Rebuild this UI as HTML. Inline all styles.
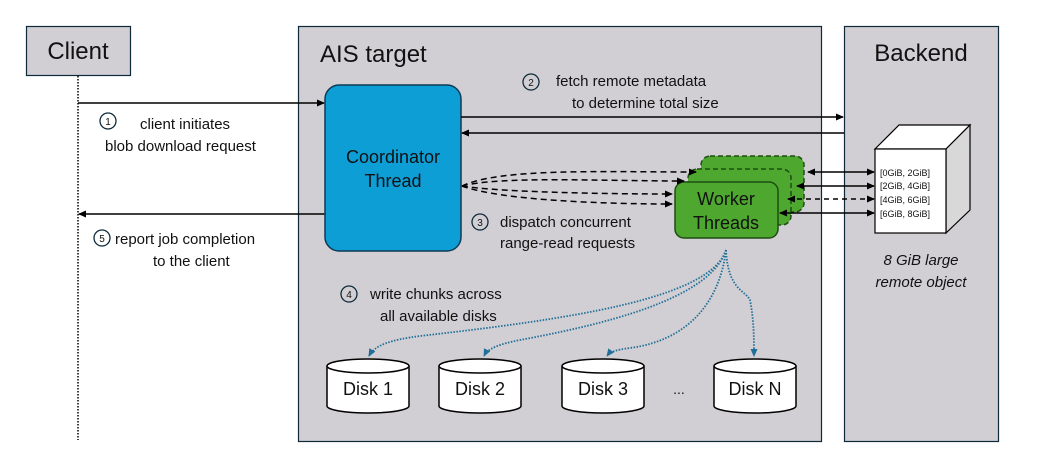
<!DOCTYPE html>
<html><head><meta charset="utf-8"><style>
html,body{margin:0;padding:0;background:#fff;}
svg{display:block;font-family:"Liberation Sans",sans-serif;}
</style></head><body>
<svg width="1041" height="459" viewBox="0 0 1041 459" xmlns="http://www.w3.org/2000/svg">
<defs>
<marker id="a" markerWidth="8" markerHeight="8" refX="7" refY="4" orient="auto" markerUnits="userSpaceOnUse"><path d="M0,0.5 L8,4 L0,7.5z" fill="#000"/></marker>
<marker id="as" markerWidth="8" markerHeight="8" refX="1" refY="4" orient="auto" markerUnits="userSpaceOnUse"><path d="M8,0.5 L0,4 L8,7.5z" fill="#000"/></marker>
<marker id="t" markerWidth="8" markerHeight="8" refX="7" refY="4" orient="auto" markerUnits="userSpaceOnUse"><path d="M0,0.5 L8,4 L0,7.5z" fill="#1f6f9a"/></marker>
</defs>
<!-- panels -->
<rect x="26.5" y="26.5" width="104" height="49" fill="#d1cfd3" stroke="#0e2a3a" stroke-width="1.2"/>
<text x="78" y="59" font-size="24" text-anchor="middle" fill="#111">Client</text>
<rect x="298.5" y="26.5" width="523" height="415" fill="#d1cfd3" stroke="#0e2a3a" stroke-width="1.2"/>
<text x="320" y="62" font-size="24" fill="#111">AIS target</text>
<rect x="844.5" y="26.5" width="154" height="415" fill="#d1cfd3" stroke="#0e2a3a" stroke-width="1.2"/>
<text x="921" y="61" font-size="24" text-anchor="middle" fill="#111">Backend</text>
<!-- client lifeline -->
<line x1="78" y1="76" x2="78" y2="440" stroke="#000" stroke-width="1.5" stroke-dasharray="1.5,1.5"/>
<!-- arrows 1,5 -->
<line x1="78" y1="103" x2="324" y2="103" stroke="#000" stroke-width="1.5" marker-end="url(#a)"/>
<line x1="325" y1="214" x2="79" y2="214" stroke="#000" stroke-width="1.5" marker-end="url(#a)"/>
<!-- coordinator -->
<rect x="325" y="85" width="136" height="166" rx="14" fill="#0e9ed6" stroke="#0e3a55" stroke-width="1.5"/>
<text x="393" y="163" font-size="18" text-anchor="middle" fill="#111">Coordinator</text>
<text x="393" y="187" font-size="18" text-anchor="middle" fill="#111">Thread</text>
<!-- arrows 2 -->
<line x1="461" y1="117" x2="843" y2="117" stroke="#000" stroke-width="1.5" marker-end="url(#a)"/>
<line x1="844" y1="133" x2="462" y2="133" stroke="#000" stroke-width="1.5" marker-end="url(#a)"/>
<!-- workers -->
<rect x="701" y="156" width="103" height="56" rx="9" fill="#4ea72e" stroke="#1f4d14" stroke-width="1.5" stroke-dasharray="5,3"/>
<rect x="688" y="169" width="103" height="56" rx="9" fill="#4ea72e" stroke="#1f4d14" stroke-width="1.5" stroke-dasharray="5,3"/>
<rect x="675" y="182" width="103" height="56" rx="9" fill="#4ea72e" stroke="#1f4d14" stroke-width="1.5"/>
<text x="726" y="205" font-size="18" text-anchor="middle" fill="#111">Worker</text>
<text x="726" y="229" font-size="18" text-anchor="middle" fill="#111">Threads</text>
<!-- dashed dispatch -->
<g fill="none" stroke="#000" stroke-width="1.5" stroke-dasharray="6,4">
<path d="M462,186 C500,168 600,172 696,172" marker-end="url(#a)"/>
<path d="M462,186 C500,176 600,181 684,181" marker-end="url(#a)"/>
<path d="M462,186 C500,192 600,194 672,194" marker-end="url(#a)"/>
<path d="M462,186 C500,200 600,204 672,204" marker-end="url(#a)"/>
</g>
<!-- cube -->
<polygon points="875,149 899,125 970,125 946,149" fill="#fff" stroke="#000" stroke-width="1.2"/>
<polygon points="946,149 970,125 970,210 946,233" fill="#d8d8d8" stroke="#000" stroke-width="1.2"/>
<rect x="875" y="149" width="71" height="84" fill="#fff" stroke="#000" stroke-width="1.2"/>
<g font-size="9" fill="#111">
<text x="880" y="176">[0GiB, 2GiB]</text>
<text x="880" y="189">[2GiB, 4GiB]</text>
<text x="880" y="203">[4GiB, 6GiB]</text>
<text x="880" y="217">[6GiB, 8GiB]</text>
</g>
<g stroke="#000" stroke-width="1.5">
<line x1="808" y1="172" x2="874" y2="172" marker-start="url(#as)" marker-end="url(#a)"/>
<line x1="797" y1="186" x2="874" y2="186" marker-start="url(#as)" marker-end="url(#a)"/>
<line x1="788" y1="199" x2="874" y2="199" stroke-dasharray="5,4" marker-start="url(#as)" marker-end="url(#a)"/>
<line x1="780" y1="213" x2="874" y2="213" marker-start="url(#as)" marker-end="url(#a)"/>
</g>
<text x="921" y="265" font-size="15" font-style="italic" text-anchor="middle" fill="#111">8 GiB large</text>
<text x="921" y="287" font-size="15" font-style="italic" text-anchor="middle" fill="#111">remote object</text>
<!-- labels -->
<g font-size="15" fill="#111">
<circle cx="108" cy="121" r="8" fill="none" stroke="#0e2a3a" stroke-width="1.3"/><text x="108" y="125" font-size="10" text-anchor="middle">1</text>
<text x="140" y="129">client initiates</text>
<text x="105" y="151">blob download request</text>
<circle cx="102" cy="238" r="8" fill="none" stroke="#0e2a3a" stroke-width="1.3"/><text x="102" y="242" font-size="10" text-anchor="middle">5</text>
<text x="115" y="244">report job completion</text>
<text x="153" y="266">to the client</text>
<circle cx="531" cy="82" r="8" fill="none" stroke="#0e2a3a" stroke-width="1.3"/><text x="531" y="86" font-size="10" text-anchor="middle">2</text>
<text x="556" y="86">fetch remote metadata</text>
<text x="572" y="108">to determine total size</text>
<circle cx="480" cy="222" r="8" fill="none" stroke="#0e2a3a" stroke-width="1.3"/><text x="480" y="226" font-size="10" text-anchor="middle">3</text>
<text x="500" y="227">dispatch concurrent</text>
<text x="500" y="248">range-read requests</text>
<circle cx="349" cy="294" r="8" fill="none" stroke="#0e2a3a" stroke-width="1.3"/><text x="349" y="298" font-size="10" text-anchor="middle">4</text>
<text x="370" y="299">write chunks across</text>
<text x="380" y="321">all available disks</text>
</g>
<!-- dotted to disks -->
<g fill="none" stroke="#1f6f9a" stroke-width="1.8" stroke-dasharray="1.5,1.5">
<path d="M726,250 C710,300 560,320 420,336 C390,340 375,345 369,356" marker-end="url(#t)"/>
<path d="M726,250 C710,300 600,325 520,340 C500,344 488,348 484,356" marker-end="url(#t)"/>
<path d="M726,250 C720,300 690,340 630,348 C615,350 610,352 607,356" marker-end="url(#t)"/>
<path d="M726,250 C728,290 745,290 750,300 C754,320 754,340 754,356" marker-end="url(#t)"/>
</g>
<!-- disks -->
<g stroke="#000" stroke-width="1.5" fill="#fff">
<path d="M327,366 L327,406 A41,7 0 0 0 409,406 L409,366"/><ellipse cx="368" cy="366" rx="41" ry="7"/>
<path d="M439,366 L439,406 A41,7 0 0 0 521,406 L521,366"/><ellipse cx="480" cy="366" rx="41" ry="7"/>
<path d="M562,366 L562,406 A41,7 0 0 0 644,406 L644,366"/><ellipse cx="603" cy="366" rx="41" ry="7"/>
<path d="M714,366 L714,406 A41,7 0 0 0 796,406 L796,366"/><ellipse cx="755" cy="366" rx="41" ry="7"/>
</g>
<g font-size="18" text-anchor="middle" fill="#111">
<text x="368" y="395">Disk 1</text><text x="480" y="395">Disk 2</text><text x="603" y="395">Disk 3</text><text x="755" y="395">Disk N</text>
<text x="679" y="394" font-size="14">...</text>
</g>
</svg>
</body></html>
